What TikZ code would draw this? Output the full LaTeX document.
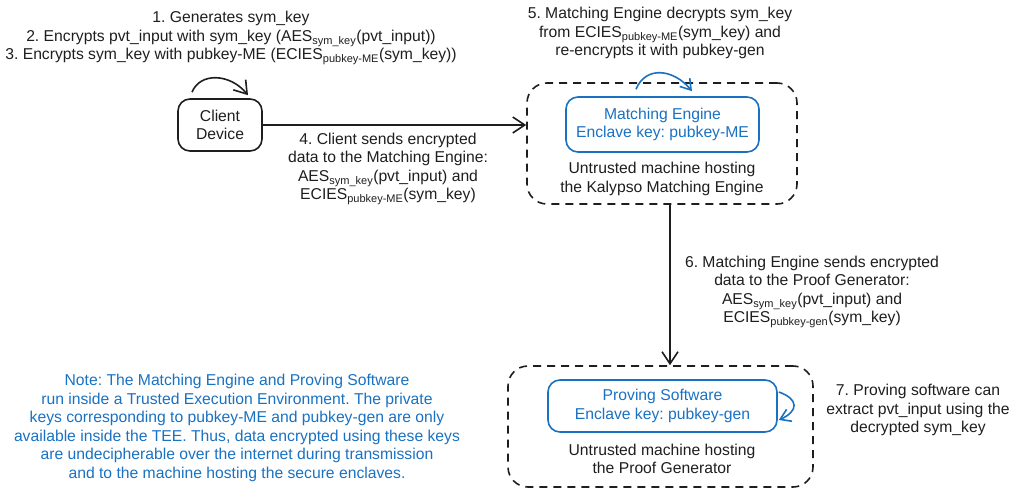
\documentclass[tikz,border=0pt]{standalone}
\usepackage{fontspec}
\setmainfont{Liberation Sans}
\usetikzlibrary{arrows.meta}
\definecolor{ink}{HTML}{1E1E1E}
\definecolor{exblue}{HTML}{1971C2}
\newcommand\kSub[1]{\textsubscript{#1}}
\frenchspacing
\begin{document}
\begin{tikzpicture}[x=1pt,y=-1pt,
  every node/.style={font=\fontsize{15.7}{18.5}\selectfont, text=ink, align=center, inner sep=0pt},
  solidbox/.style={draw=ink, line width=1.6pt, rounded corners=12pt},
  bluebox/.style={draw=exblue, text=exblue, line width=1.6pt, rounded corners=12pt},
  dashbox/.style={draw=ink, line width=1.6pt, rounded corners=20pt, dash pattern=on 8pt off 6pt},
  arr/.style={draw=ink, line width=1.6pt, -{Straight Barb[length=12pt,width=16pt]}},
  barr/.style={draw=exblue, line width=1.6pt, -{Straight Barb[length=10pt,width=13pt]}},
  bluetext/.style={text=exblue}
]
\useasboundingbox (0,0) rectangle (1024,494);

% labels
\node (l123) at (231,38) {1. Generates sym\_key\\
2. Encrypts pvt\_input with sym\_key (AES\kSub{sym\_key}(pvt\_input))\\
3. Encrypts sym\_key with pubkey-ME (ECIES\kSub{pubkey-ME}(sym\_key))};

% client
\node[solidbox, minimum width=84pt, minimum height=52pt] (client) at (220,125) {Client\\Device};

% matching engine
\node[dashbox, minimum width=270pt, minimum height=121pt] (me) at (662,143.5) {};
\node[bluebox, minimum width=193pt, minimum height=55pt] (mein) at (662.5,124.5) {Matching Engine\\Enclave key: pubkey-ME};
\node (metxt) at (662,179) {Untrusted machine hosting\\the Kalypso Matching Engine};

% proof generator
\node[dashbox, minimum width=305pt, minimum height=121pt] (pg) at (660.5,426.5) {};
\node[bluebox, minimum width=229pt, minimum height=52pt] (pgin) at (662.5,406) {Proving Software\\Enclave key: pubkey-gen};
\node (pgtxt) at (662,459) {Untrusted machine hosting\\the Proof Generator};

\node (l4) at (388,169) {4. Client sends encrypted\\data to the Matching Engine:\\AES\kSub{sym\_key}(pvt\_input) and\\ECIES\kSub{pubkey-ME}(sym\_key)};
\node (l5) at (660,33) {5. Matching Engine decrypts sym\_key\\from ECIES\kSub{pubkey-ME}(sym\_key) and\\re-encrypts it with pubkey-gen};
\node (l6) at (812,292) {6. Matching Engine sends encrypted\\data to the Proof Generator:\\AES\kSub{sym\_key}(pvt\_input) and\\ECIES\kSub{pubkey-gen}(sym\_key)};
\node (l7) at (918,410) {7. Proving software can\\extract pvt\_input using the\\decrypted sym\_key};
\node[bluetext] (note) at (237,428) {Note: The Matching Engine and Proving Software\\
run inside a Trusted Execution Environment. The private\\
keys corresponding to pubkey-ME and pubkey-gen are only\\
available inside the TEE. Thus, data encrypted using these keys\\
are undecipherable over the internet during transmission\\
and to the machine hosting the secure enclaves.};

% connectors
\draw[arr] (client.east) -- (client.east -| me.west);
\draw[arr] ([xshift=8pt]me.south) -- ([xshift=8pt]me.south |- pg.north);

% self loops
\draw[arr] ([xshift=-28pt,yshift=6pt]client.north) .. controls +(8,-20) and +(-18,-22) .. ([xshift=28pt,yshift=3pt]client.north);
\draw[barr] ([xshift=-26.5pt,yshift=7pt]mein.north) .. controls +(10,-24) and +(-18,-22) .. ([xshift=29.5pt,yshift=5pt]mein.north);
\draw[barr] ([xshift=1pt,yshift=14pt]pgin.east) .. controls +(20,7) and +(20,-9) .. ([xshift=1pt,yshift=-14pt]pgin.east);
\end{tikzpicture}
\end{document}
